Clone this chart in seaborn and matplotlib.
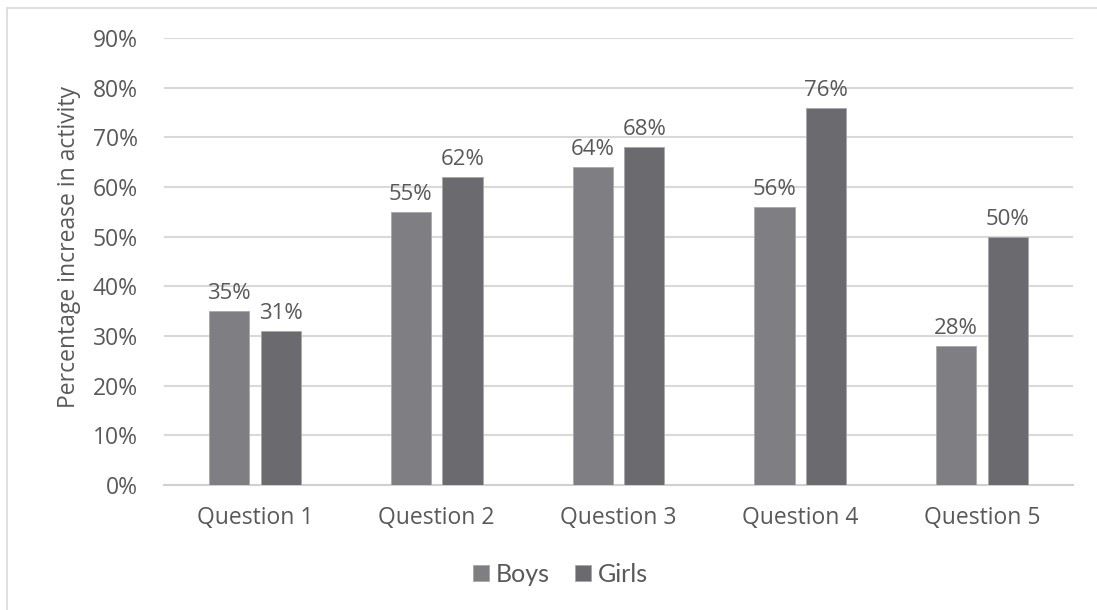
import matplotlib
matplotlib.use("Agg")
import matplotlib.pyplot as plt
from matplotlib.lines import Line2D
from matplotlib.ticker import FuncFormatter, MultipleLocator
import seaborn as sns
import pandas as pd

questions = ["Question 1", "Question 2", "Question 3", "Question 4", "Question 5"]
boys = [35, 55, 64, 56, 28]
girls = [31, 62, 68, 76, 50]
groups = ["Boys", "Girls"]
colors = {"Boys": "#7f7f83", "Girls": "#6b6b6f"}

df = pd.DataFrame({
    "question": questions * 2,
    "group": ["Boys"] * len(boys) + ["Girls"] * len(girls),
    "value": [v / 100 for v in boys + girls],
})

sns.set_style("white")
plt.rcParams["font.family"] = ["Open Sans", "DejaVu Sans"]
text_color = "#595959"

fig = plt.figure(figsize=(10.97, 6.10), dpi=100)
ax = fig.add_axes([0.1495, 0.2049, 0.8285, 0.7328])

sns.barplot(data=df, x="question", y="value", hue="group", hue_order=groups,
            palette=colors, width=0.567, gap=0.22, saturation=1,
            edgecolor="#a8a8ab", linewidth=0.6, ax=ax, legend=True, zorder=3)

ax.set_ylim(0, 0.9)
ax.set_xlim(-0.5, len(questions) - 0.5)
ax.yaxis.set_major_locator(MultipleLocator(0.1))
ax.yaxis.set_major_formatter(FuncFormatter(lambda v, _: f"{v * 100:.0f}%"))
ax.grid(axis="y", color="#d9d9d9", linewidth=1.5, zorder=0)
ax.set_axisbelow(True)
for side in ["left", "right", "top"]:
    ax.spines[side].set_visible(False)
ax.spines["bottom"].set_color("#d0d0d0")
ax.spines["bottom"].set_linewidth(1.5)
ax.tick_params(axis="both", length=0, labelcolor=text_color)
ax.tick_params(axis="x", pad=15, labelsize=16.5)
ax.tick_params(axis="y", pad=19, labelsize=16.5)
ax.set_xlabel("")
ax.set_ylabel("Percentage increase in activity", fontsize=16.5, color=text_color)
ax.yaxis.set_label_coords(-0.0915, 0.532)

for container in ax.containers:
    labels = [f"{b.get_height() * 100:.0f}%" for b in container]
    ax.bar_label(container, labels=labels, padding=5, fontsize=16, color=text_color)

handles, labels = ax.get_legend_handles_labels()
ax.legend_.remove()
fig.legend(handles, labels, loc="center", bbox_to_anchor=(0.511, 0.059), ncol=2,
           frameon=False, prop={"family": "Lato", "size": 18},
           labelcolor=text_color, handlelength=0.62, handleheight=0.62,
           handletextpad=0.3, columnspacing=1.0)

# light frame along the top and left of the canvas
fig.add_artist(Line2D([7 / 1097, 7 / 1097], [0, 1 - 8 / 610], transform=fig.transFigure,
                      color="#d9d9d9", linewidth=1.2))
fig.add_artist(Line2D([7 / 1097, 1], [1 - 8 / 610, 1 - 8 / 610], transform=fig.transFigure,
                      color="#d9d9d9", linewidth=1.2))

fig.savefig("out.png", dpi=100)
